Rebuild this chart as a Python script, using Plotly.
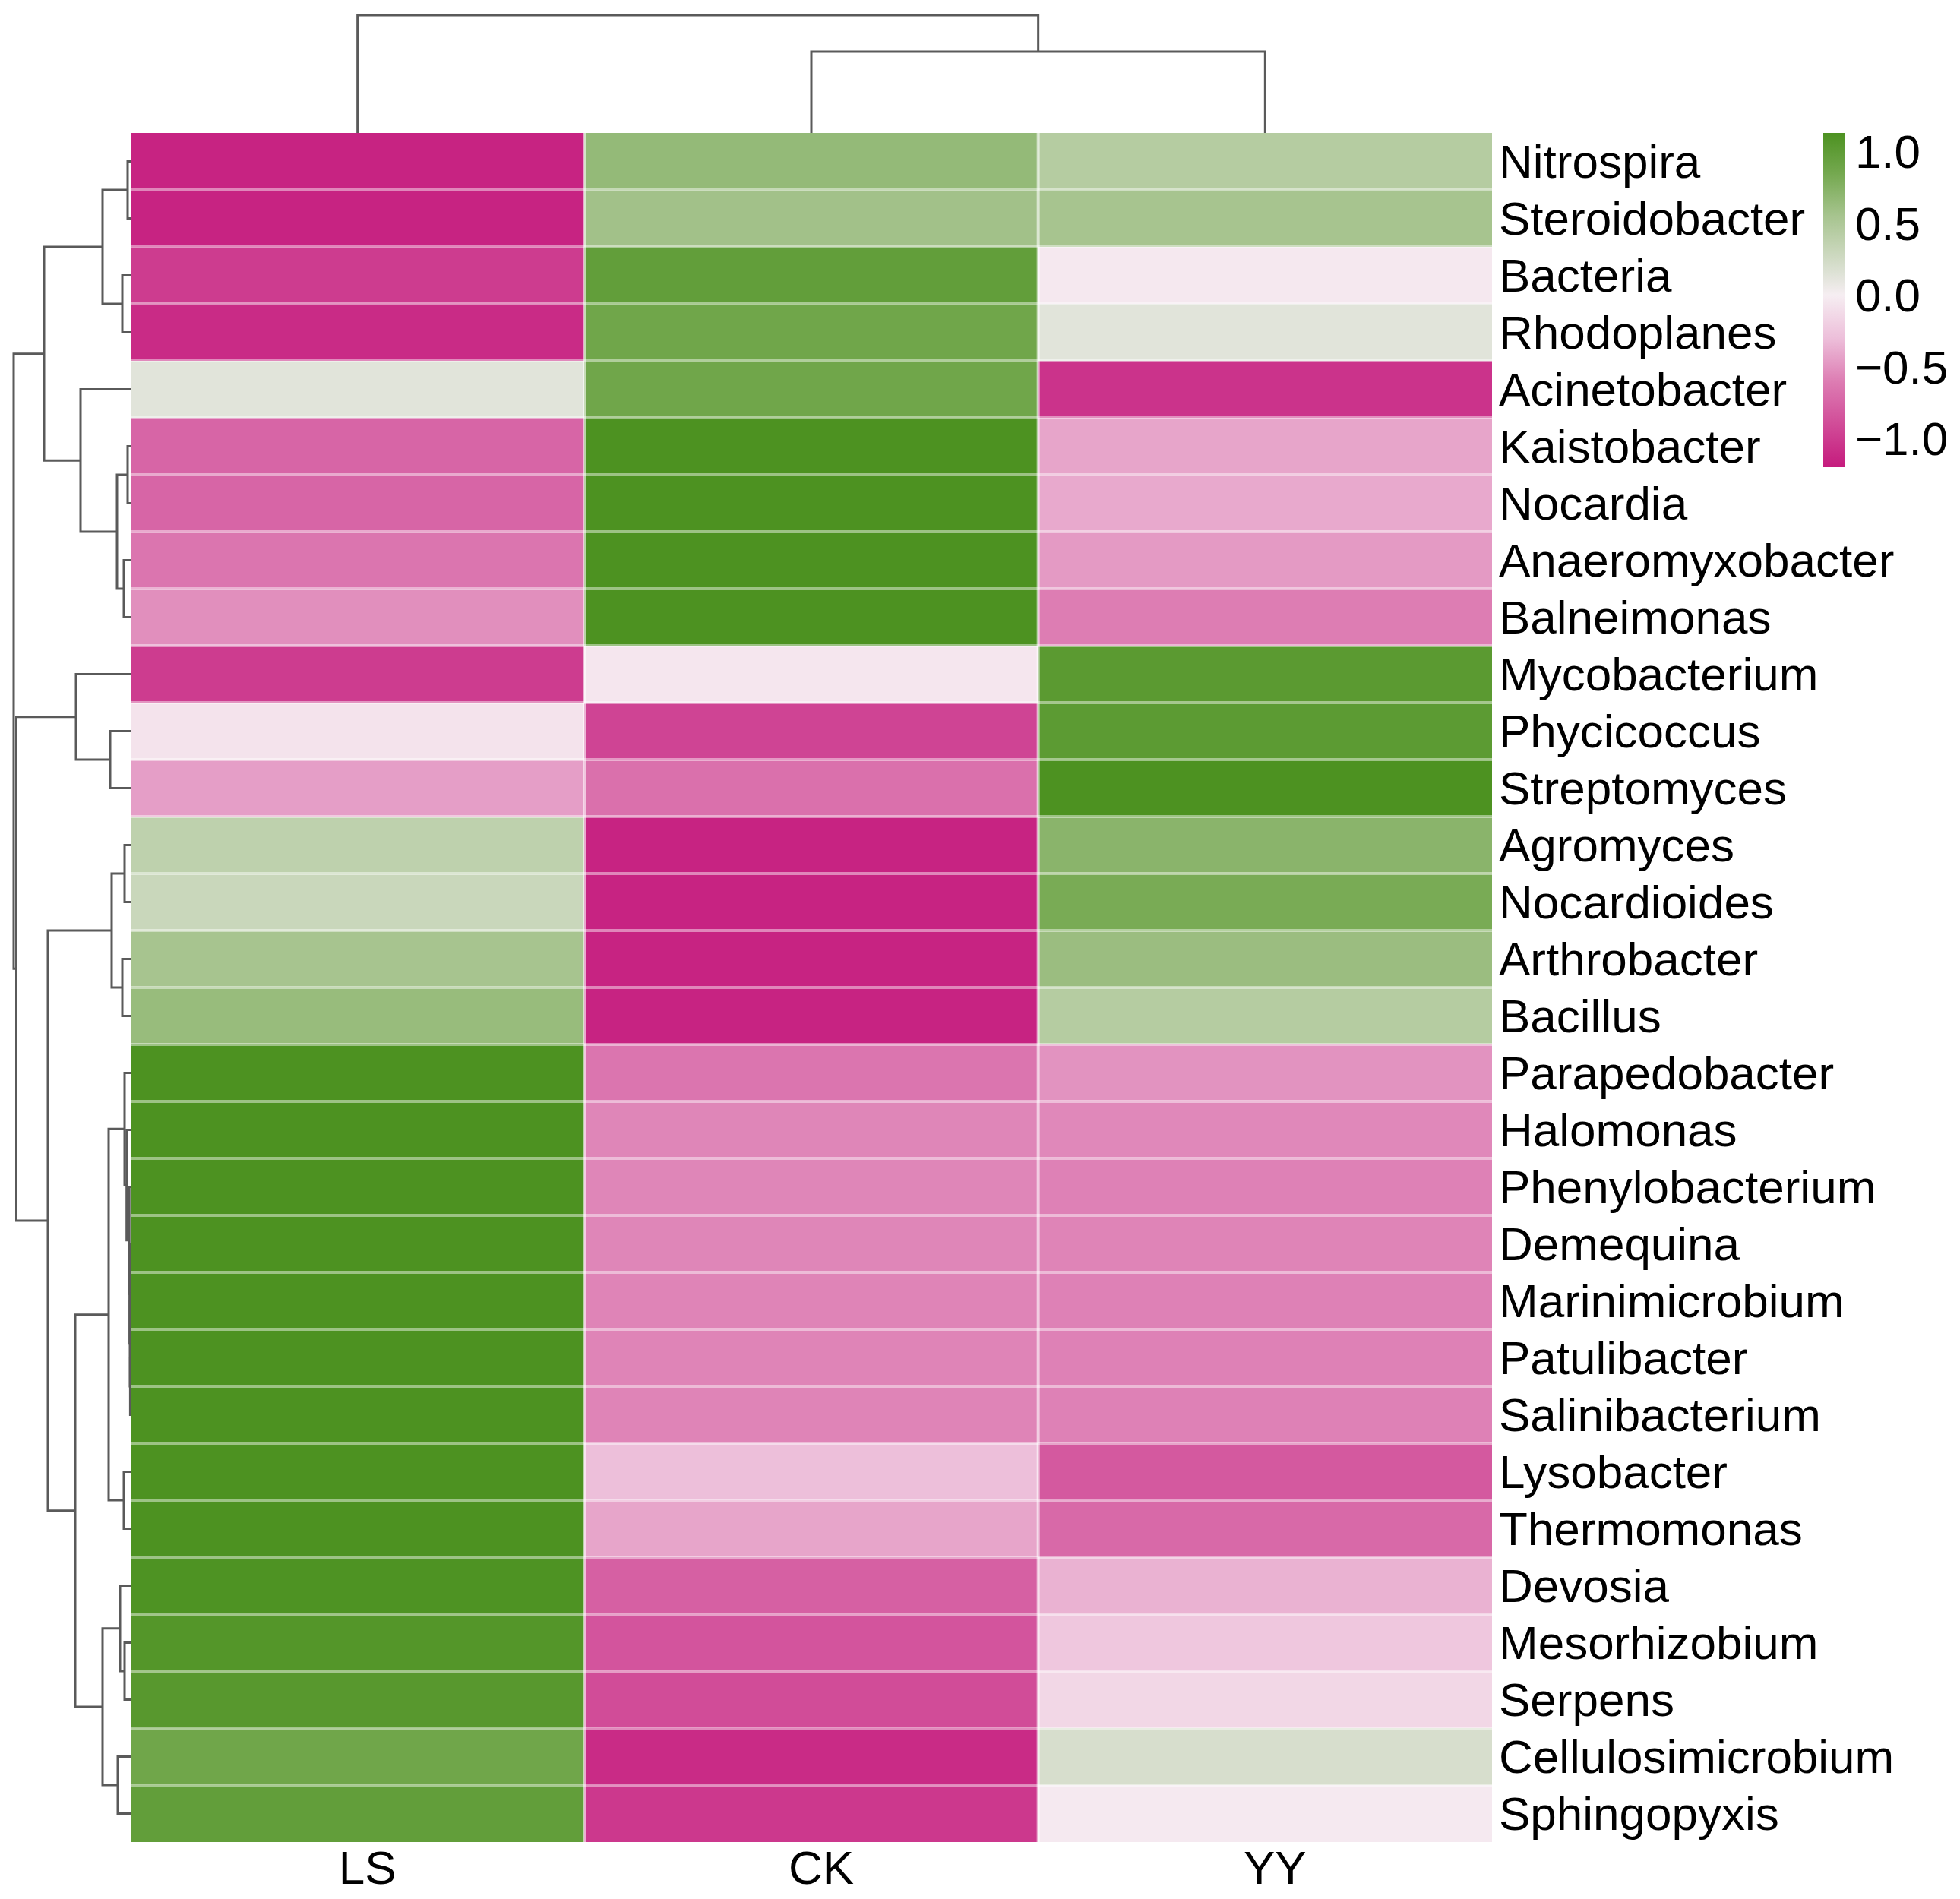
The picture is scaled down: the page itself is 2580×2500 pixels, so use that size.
import plotly.graph_objects as go

# row names (top to bottom, in dendrogram order)
rows = ["Nitrospira", "Steroidobacter", "Bacteria", "Rhodoplanes", "Acinetobacter",
        "Kaistobacter", "Nocardia", "Anaeromyxobacter", "Balneimonas", "Mycobacterium",
        "Phycicoccus", "Streptomyces", "Agromyces", "Nocardioides", "Arthrobacter",
        "Bacillus", "Parapedobacter", "Halomonas", "Phenylobacterium", "Demequina",
        "Marinimicrobium", "Patulibacter", "Salinibacterium", "Lysobacter", "Thermomonas",
        "Devosia", "Mesorhizobium", "Serpens", "Cellulosimicrobium", "Sphingopyxis"]
cols = ["LS", "CK", "YY"]

# row-scaled values per sample
ls = [-1.15, -1.15, -1.00, -1.10, 0.13, -0.75, -0.75, -0.65, -0.52, -1.00,
      -0.07, -0.45, 0.38, 0.30, 0.55, 0.64, 1.13, 1.13, 1.13, 1.13,
      1.13, 1.13, 1.13, 1.13, 1.13, 1.12, 1.08, 1.05, 0.88, 0.98]
ck = [0.66, 0.58, 0.98, 0.88, 0.88, 1.13, 1.13, 1.13, 1.13, -0.05,
      -0.95, -0.68, -1.15, -1.15, -1.15, -1.15, -0.65, -0.56, -0.56, -0.56,
      -0.57, -0.57, -0.57, -0.30, -0.42, -0.78, -0.85, -0.90, -1.10, -1.02]
yy = [0.45, 0.55, -0.04, 0.13, -1.05, -0.42, -0.40, -0.47, -0.60, 1.03,
      1.02, 1.13, 0.72, 0.82, 0.62, 0.45, -0.50, -0.55, -0.58, -0.57,
      -0.58, -0.58, -0.58, -0.82, -0.72, -0.36, -0.25, -0.15, 0.20, -0.03]

# hierarchical clustering merges: (child a, child b, height); leaves are 0..n-1
row_merges = [(0, 1, 4), (2, 3, 11), (30, 31, 37), (5, 6, 4), (7, 8, 9),
              (33, 34, 18), (4, 35, 66), (32, 36, 114), (10, 11, 27), (9, 38, 72),
              (12, 13, 8), (14, 15, 11), (40, 41, 25), (21, 22, 0.6), (20, 43, 1.0),
              (19, 44, 1.4), (18, 45, 1.8), (17, 46, 5.3), (16, 47, 8), (23, 24, 9),
              (48, 49, 29), (26, 27, 8), (25, 51, 14), (28, 29, 17), (52, 53, 37),
              (50, 54, 73), (42, 55, 109), (39, 56, 150.5), (37, 57, 154)]
col_merges = [(1, 2, 107), (0, 3, 155)]

W, H = 2580, 2500
OFF = 8  # page body margin
FONT = "Arial, 'Liberation Sans', sans-serif"
FS = 62

# colour scale defined by value
cmin, cmax = -1.2, 1.13
stops = [(-1.2, "#C51B7D"), (-0.6, "#DD7DB3"), (-0.3, "#EDBFDA"), (0.0, "#F6EEF2"),
         (0.15, "#DEE2D6"), (0.55, "#A7C48F"), (0.85, "#74A84F"), (1.13, "#4D9221")]
colorscale = [[(v - cmin) / (cmax - cmin), c] for v, c in stops]


def fx(px):
    return (px - OFF) / W


def fy(py):
    return 1 - (py - OFF) / H


def dendro_lines(merges, n):
    pos = {i: float(i) for i in range(n)}
    hgt = {i: 0.0 for i in range(n)}
    p, h = [], []
    for k, (a, b, ht) in enumerate(merges):
        p += [pos[a], pos[a], pos[b], pos[b], None]
        h += [hgt[a], ht, ht, hgt[b], None]
        pos[n + k] = (pos[a] + pos[b]) / 2
        hgt[n + k] = ht
    return p, h


z = [list(r) for r in zip(ls, ck, yy)]

fig = go.Figure()
fig.add_trace(go.Heatmap(
    z=z, x=list(range(len(cols))), y=list(range(len(rows))),
    zmin=cmin, zmax=cmax, colorscale=colorscale,
    colorbar=dict(x=fx(2400), xanchor="left", y=fy(175), yanchor="top",
                  len=440, lenmode="pixels", thickness=29, xpad=0, ypad=0,
                  outlinewidth=0, ticks="",
                  tickvals=[-1, -0.5, 0, 0.5, 1],
                  ticktext=["\u22121.0", "\u22120.5", "0.0", "0.5", "1.0"],
                  tickfont=dict(size=FS, family=FONT, color="#000")),
    hoverongaps=False))

# left (row) dendrogram
rp, rh = dendro_lines(row_merges, len(rows))
fig.add_trace(go.Scatter(x=rh, y=rp, mode="lines", xaxis="x2", yaxis="y2",
                         line=dict(color="#5a5a5a", width=3), hoverinfo="skip",
                         showlegend=False))
# top (column) dendrogram
cp, ch = dendro_lines(col_merges, len(cols))
fig.add_trace(go.Scatter(x=cp, y=ch, mode="lines", xaxis="x3", yaxis="y3",
                         line=dict(color="#5a5a5a", width=3), hoverinfo="skip",
                         showlegend=False))

# light separators between cells
shapes = []
for i in range(1, len(rows)):
    shapes.append(dict(type="line", xref="x", yref="y", x0=-0.5, x1=len(cols) - 0.5,
                       y0=i - 0.5, y1=i - 0.5,
                       line=dict(color="rgba(255,255,255,0.45)", width=4)))
for j in range(1, len(cols)):
    shapes.append(dict(type="line", xref="x", yref="y", x0=j - 0.5, x1=j - 0.5,
                       y0=-0.5, y1=len(rows) - 0.5,
                       line=dict(color="rgba(255,255,255,0.6)", width=4)))

hx = [fx(172), fx(1964)]
hy = [fy(2425), fy(175)]

fig.update_layout(
    width=W, height=H, margin=dict(l=0, r=0, t=0, b=0),
    paper_bgcolor="white", plot_bgcolor="white", showlegend=False,
    font=dict(family=FONT, size=FS, color="#000"),
    shapes=shapes,
    xaxis=dict(domain=hx, range=[-0.5, len(cols) - 0.5], tickvals=list(range(len(cols))),
               ticktext=cols, ticks="", ticklabelstandoff=-8, ticklabelshift=13,
               showgrid=False, zeroline=False, showline=False, tickfont=dict(size=FS)),
    yaxis=dict(domain=hy, range=[len(rows) - 0.5, -0.5], side="right",
               tickvals=list(range(len(rows))), ticktext=rows, ticks="",
               ticklabelstandoff=8, showgrid=False, zeroline=False, showline=False,
               tickfont=dict(size=FS)),
    xaxis2=dict(domain=[0, fx(172)], range=[172 - OFF, 0], visible=False),
    yaxis2=dict(domain=hy, range=[len(rows) - 0.5, -0.5], visible=False),
    xaxis3=dict(domain=hx, range=[-0.5, len(cols) - 0.5], visible=False),
    yaxis3=dict(domain=[hy[1], 1], range=[0, 175 - OFF], visible=False),
)

fig.write_html("out.html")
